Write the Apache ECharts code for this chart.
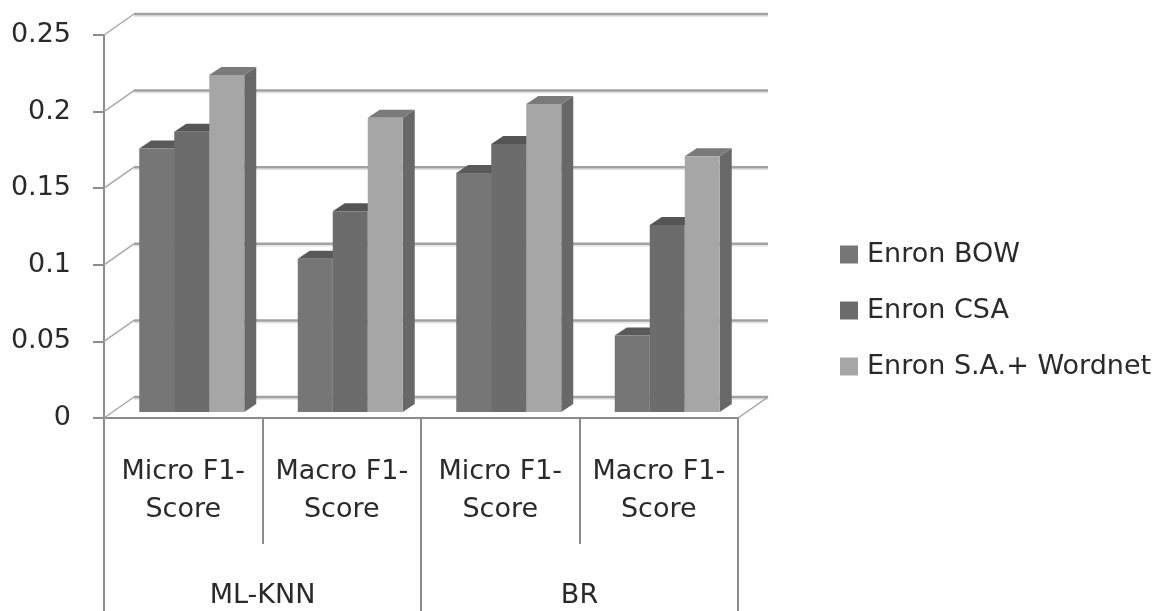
<!DOCTYPE html>
<html>
<head>
<meta charset="utf-8">
<style>
  html, body { margin: 0; padding: 0; background: #fff; }
  #chart { width: 1160px; height: 611px; filter: blur(0.5px); }
</style>
<script src="https://cdn.jsdelivr.net/npm/echarts@6/dist/echarts.min.js"></script>
</head>
<body>
<div id="chart"></div>
<script>
const categories = ["Micro F1-\nScore", "Macro F1-\nScore", "Micro F1-\nScore", "Macro F1-\nScore"];
const groups = ["ML-KNN", "BR"];
const yTicks = [0, 0.05, 0.1, 0.15, 0.2, 0.25];
const enronBow = [0.172, 0.1, 0.156, 0.05];
const enronCsa = [0.183, 0.131, 0.175, 0.122];
const enronWordnet = [0.22, 0.192, 0.201, 0.167];

const myChart = echarts.init(document.getElementById("chart"));
const font = "DejaVu Sans";

// 3d look: the wall sits behind the front axis, the bars halfway in between
const wallX = 30, wallY = -21;
const barLift = -6, barShift = 8.5, barWidth = 35, depthX = 12, depthY = -8;

const bar3d = (index, faceColor, topColor, sideColor) => (params, api) => {
    const p = api.coord([api.value(0), api.value(1)]);
    const base = api.coord([api.value(0), 0]);
    const x = p[0] + barShift + (index - 1.5) * barWidth;
    const top = p[1] + barLift;
    const bottom = base[1] + barLift;
    const right = x + barWidth;
    const poly = (points, fill) => ({type: "polygon", shape: {points}, style: {fill}});
    return {
        type: "group",
        children: [
            poly([[right, top], [right + depthX, top + depthY], [right + depthX, bottom + depthY], [right, bottom]], sideColor),
            poly([[x, top], [x + depthX, top + depthY], [right + depthX, top + depthY], [right, top]], topColor),
            poly([[x, top], [right, top], [right, bottom], [x, bottom]], faceColor),
        ],
    };
};

const wall = (params, api) => {
    const v = api.value(0);
    const y = api.coord([0, v])[1];
    const x0 = params.coordSys.x;
    const x1 = x0 + params.coordSys.width;
    const line = (ax, ay, bx, by, stroke, lineWidth) => ({
        type: "line",
        shape: {x1: ax, y1: ay, x2: bx, y2: by},
        style: {stroke, lineWidth},
    });
    const children = [
        line(x0 + wallX, y + wallY + 2, x1 + wallX, y + wallY + 2, "#e6e6e6", 2),
        line(x0 + wallX, y + wallY, x1 + wallX, y + wallY, "#a2a2a2", 2.5),
        line(x0, y, x0 + wallX, y + wallY, "#a8a8a8", 1.5),
    ];
    if (v === 0) {
        children.push(line(x1, y, x1 + wallX, y + wallY, "#a0a0a0", 1.5));
    }
    return {type: "group", children};
};

const toData = (arr) => arr.map((v, i) => [i, v]);

const option = {
    backgroundColor: "#fff",
    animation: false,
    grid: {left: 104, right: 422, top: 35, bottom: 193},
    legend: {
        left: 835,
        top: 236,
        orient: "vertical",
        itemWidth: 18,
        itemHeight: 18,
        itemGap: 29,
        icon: "rect",
        textStyle: {fontFamily: font, fontSize: 27, color: "#2a2a2a", padding: [0, 0, 0, 4]},
        data: ["Enron BOW", "Enron CSA", "Enron S.A.+ Wordnet"],
    },
    xAxis: [
        {
            type: "category",
            data: categories,
            position: "bottom",
            axisLine: {lineStyle: {color: "#8c8c8c", width: 2}},
            axisTick: {show: true, length: 126, alignWithLabel: false, lineStyle: {color: "#8c8c8c", width: 2}},
            axisLabel: {
                interval: 0,
                margin: 35,
                fontFamily: font,
                fontSize: 27,
                lineHeight: 38,
                color: "#2a2a2a",
            },
        },
        {
            type: "category",
            data: groups,
            position: "bottom",
            axisLine: {show: false},
            axisTick: {show: true, length: 193, lineStyle: {color: "#8c8c8c", width: 2}},
            axisLabel: {interval: 0, margin: 164, fontFamily: font, fontSize: 27, color: "#2a2a2a"},
        },
    ],
    yAxis: {
        type: "value",
        min: 0,
        max: 0.25,
        interval: 0.05,
        axisLine: {show: true, lineStyle: {color: "#8c8c8c", width: 2}},
        axisTick: {show: true, length: 11, lineStyle: {color: "#8c8c8c", width: 2}},
        splitLine: {show: false},
        axisLabel: {
            margin: 33,
            fontFamily: font,
            fontSize: 27,
            color: "#2a2a2a",
            formatter: (v) => String(v),
        },
    },
    series: [
        {
            type: "custom",
            silent: true,
            renderItem: wall,
            encode: {y: 0},
            data: yTicks.map((v) => [v]),
            z: 1,
        },
        {
            name: "Enron BOW",
            type: "custom",
            renderItem: bar3d(0, "#767676", "#595959", "#616161"),
            itemStyle: {color: "#767676"},
            encode: {x: 0, y: 1},
            data: toData(enronBow),
            z: 2,
        },
        {
            name: "Enron CSA",
            type: "custom",
            renderItem: bar3d(1, "#6c6c6c", "#555555", "#5e5e5e"),
            itemStyle: {color: "#6c6c6c"},
            encode: {x: 0, y: 1},
            data: toData(enronCsa),
            z: 3,
        },
        {
            name: "Enron S.A.+ Wordnet",
            type: "custom",
            renderItem: bar3d(2, "#a6a6a6", "#7a7a7a", "#686868"),
            itemStyle: {color: "#a6a6a6"},
            encode: {x: 0, y: 1},
            data: toData(enronWordnet),
            z: 4,
        },
    ],
};

myChart.setOption(option);
</script>
</body>
</html>
